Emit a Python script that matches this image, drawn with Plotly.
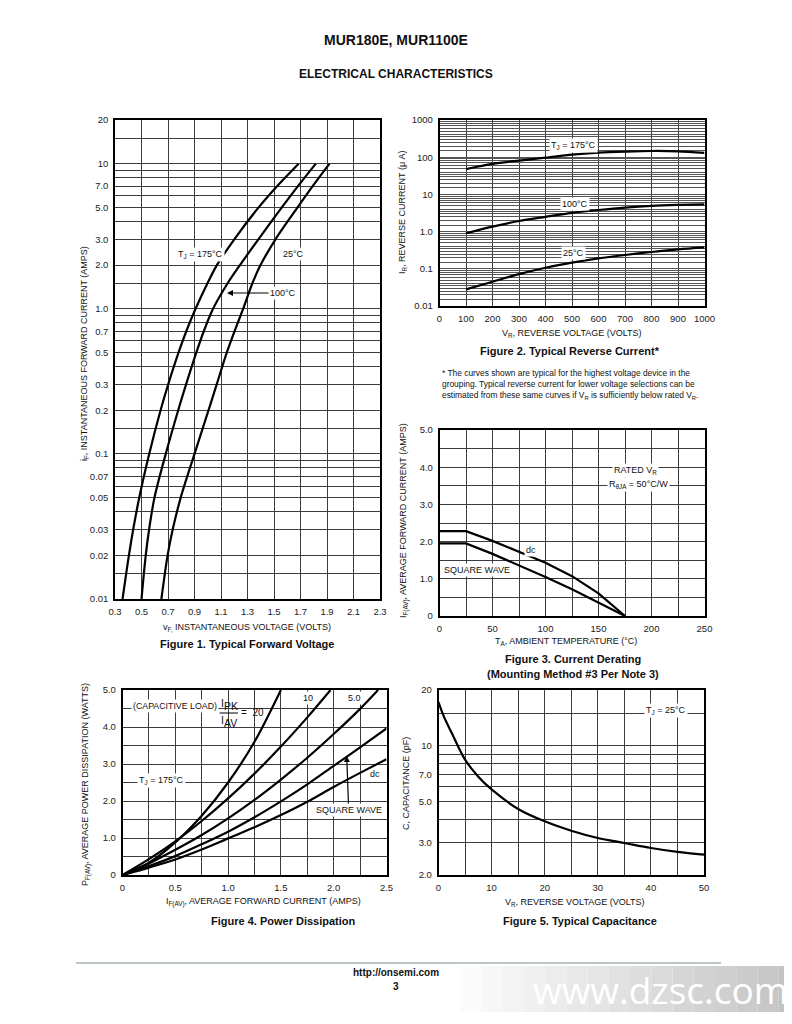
import plotly.graph_objects as go
import numpy as np

W, H = 792, 1024
OFF = 8  # page body margin of the browser
FONT = "Liberation Sans Narrow, Arial Narrow, Liberation Sans, Arial, sans-serif"
BFONT = "Liberation Sans, Arial, sans-serif"

def px(x):
    return (x - OFF) / W

def py(y):
    return 1 - (y - OFF) / H

# ---------------- Figure 1: Typical Forward Voltage ----------------
f1_i = [0.01, 0.02, 0.03, 0.05, 0.1, 0.2, 0.3, 0.5, 0.7, 1.0, 1.5, 2.0, 3.0, 5.0, 7.0, 10]
f1_v175 = [0.357, 0.405, 0.437, 0.483, 0.558, 0.644, 0.701, 0.780, 0.838, 0.908, 0.998, 1.069, 1.199, 1.384, 1.523, 1.686]
f1_v100 = [0.500, 0.532, 0.557, 0.598, 0.683, 0.777, 0.836, 0.914, 0.970, 1.040, 1.150, 1.243, 1.381, 1.559, 1.681, 1.816]
f1_v25 = [0.650, 0.697, 0.735, 0.796, 0.900, 1.006, 1.067, 1.144, 1.202, 1.267, 1.337, 1.398, 1.510, 1.678, 1.792, 1.919]
f1_xticks = [0.3, 0.5, 0.7, 0.9, 1.1, 1.3, 1.5, 1.7, 1.9, 2.1, 2.3]
f1_ygrid = [0.01, 0.015, 0.02, 0.03, 0.04, 0.05, 0.06, 0.07, 0.08, 0.09,
            0.1, 0.15, 0.2, 0.3, 0.4, 0.5, 0.6, 0.7, 0.8, 0.9,
            1.0, 1.5, 2.0, 3.0, 4.0, 5.0, 6.0, 7.0, 8.0, 9.0, 10, 15, 20]
f1_ylabels = {0.01: "0.01", 0.02: "0.02", 0.03: "0.03", 0.05: "0.05", 0.07: "0.07",
              0.1: "0.1", 0.2: "0.2", 0.3: "0.3", 0.5: "0.5", 0.7: "0.7",
              1.0: "1.0", 2.0: "2.0", 3.0: "3.0", 5.0: "5.0", 7.0: "7.0", 10: "10", 20: "20"}

# ---------------- Figure 2: Typical Reverse Current ----------------
f2_vr = [100, 200, 300, 400, 500, 600, 700, 800, 900, 1000]
f2_ir175 = [48, 66, 81, 97, 117, 132, 141, 147, 144, 130]
f2_ir100 = [0.9, 1.36, 1.93, 2.5, 3.2, 3.8, 4.4, 4.9, 5.2, 5.4]
f2_ir25 = [0.028, 0.045, 0.072, 0.107, 0.146, 0.19, 0.235, 0.283, 0.334, 0.378]
f2_xticks = [0, 100, 200, 300, 400, 500, 600, 700, 800, 900, 1000]
f2_decades = [0.01, 0.1, 1.0, 10, 100]
f2_mult = [1, 1.5, 2, 2.5, 3, 3.5, 4, 5, 6, 7, 8, 9]
f2_ylabels = {0.01: "0.01", 0.1: "0.1", 1.0: "1.0", 10: "10", 100: "100", 1000: "1000"}

# ---------------- Figure 3: Current Derating ----------------
f3_ta = [0, 25, 50, 75, 100, 125, 150, 175]
f3_dc = [2.28, 2.28, 2.02, 1.73, 1.43, 1.07, 0.61, 0]
f3_sq = [1.95, 1.95, 1.67, 1.37, 1.05, 0.72, 0.36, 0]
f3_xgrid = [0, 25, 50, 75, 100, 125, 150, 175, 200, 225, 250]
f3_xlabels = {0: "0", 50: "50", 100: "100", 150: "150", 200: "200", 250: "250"}
f3_ygrid = [0, 0.5, 1.0, 1.5, 2.0, 2.5, 3.0, 3.5, 4.0, 4.5, 5.0]
f3_ylabels = {0: "0", 1.0: "1.0", 2.0: "2.0", 3.0: "3.0", 4.0: "4.0", 5.0: "5.0"}

# ---------------- Figure 4: Power Dissipation ----------------
f4_i = [0, 0.25, 0.5, 0.75, 1.0, 1.25, 1.5, 1.75, 2.0, 2.25, 2.5]
f4_p20_i = [0, 0.25, 0.5, 0.75, 1.0, 1.25, 1.5]
f4_p20 = [0, 0.33, 0.88, 1.6, 2.5, 3.6, 5.0]
f4_p10_i = [0, 0.25, 0.5, 0.75, 1.0, 1.25, 1.5, 1.75, 1.97]
f4_p10 = [0, 0.43, 0.91, 1.46, 2.07, 2.74, 3.47, 4.26, 5.0]
f4_p5_i = [0, 0.25, 0.5, 0.75, 1.0, 1.25, 1.5, 1.75, 2.0, 2.25, 2.42]
f4_p5 = [0, 0.31, 0.68, 1.08, 1.53, 2.03, 2.58, 3.17, 3.81, 4.49, 5.0]
f4_psq = [0, 0.24, 0.51, 0.83, 1.17, 1.56, 1.99, 2.45, 2.95, 3.45, 3.96]
f4_pdc = [0, 0.20, 0.42, 0.69, 0.99, 1.29, 1.62, 1.98, 2.38, 2.76, 3.13]
f4_xgrid = [0, 0.25, 0.5, 0.75, 1.0, 1.25, 1.5, 1.75, 2.0, 2.25, 2.5]
f4_xlabels = {0: "0", 0.5: "0.5", 1.0: "1.0", 1.5: "1.5", 2.0: "2.0", 2.5: "2.5"}
f4_ygrid = [0, 0.5, 1.0, 1.5, 2.0, 2.5, 3.0, 3.5, 4.0, 4.5, 5.0]
f4_ylabels = {0: "0", 1.0: "1.0", 2.0: "2.0", 3.0: "3.0", 4.0: "4.0", 5.0: "5.0"}

# ---------------- Figure 5: Typical Capacitance ----------------
f5_vr = [0, 1, 2.5, 5, 7.5, 10, 15, 20, 25, 30, 35, 40, 45, 50]
f5_c = [17.2, 14.4, 11.7, 8.4, 6.8, 5.8, 4.55, 3.9, 3.47, 3.17, 2.98, 2.80, 2.67, 2.58]
f5_xgrid = [0, 5, 10, 15, 20, 25, 30, 35, 40, 45, 50]
f5_xlabels = {0: "0", 10: "10", 20: "20", 30: "30", 40: "40", 50: "50"}
f5_ygrid = [2, 3, 4, 5, 6, 7, 8, 9, 10, 15, 20]
f5_ylabels = {2: "2.0", 3: "3.0", 5: "5.0", 7: "7.0", 10: "10", 20: "20"}


def labels_for(grid, lab):
    return [lab.get(v, "") for v in grid]


fig = go.Figure()
LINE = dict(color="black", width=2.2)

def add(x, y, n, smooth=True):
    xa = "x" if n == 1 else f"x{n}"
    ya = "y" if n == 1 else f"y{n}"
    ln = dict(LINE, shape="spline", smoothing=0.9) if smooth else LINE
    fig.add_trace(go.Scatter(x=x, y=y, mode="lines", line=ln,
                             xaxis=xa, yaxis=ya, showlegend=False, hoverinfo="skip"))

add(f1_v175, f1_i, 1)
add(f1_v100, f1_i, 1)
add(f1_v25, f1_i, 1)
add(f2_vr, f2_ir175, 2)
add(f2_vr, f2_ir100, 2)
add(f2_vr, f2_ir25, 2)
add(f3_ta, f3_dc, 3, smooth=False)
add(f3_ta, f3_sq, 3, smooth=False)
add(f4_p20_i, f4_p20, 4)
add(f4_p10_i, f4_p10, 4)
add(f4_p5_i, f4_p5, 4)
add(f4_i, f4_psq, 4)
add(f4_i, f4_pdc, 4)
add(f5_vr, f5_c, 5)

f2_ygrid = [d * m for d in f2_decades for m in f2_mult] + [1000]

def ax(domain, rng, tickvals, ticktext, typ="linear", anchor=None, grid="#3c3c3c"):
    d = dict(domain=domain, range=rng, type=typ, tickmode="array", tickvals=tickvals,
             ticktext=ticktext, showgrid=True, gridcolor=grid, gridwidth=1,
             showline=True, linecolor="black", linewidth=1.5, mirror=True, ticks="",
             zeroline=False, tickfont=dict(family=FONT, size=9.5, color="#222"),
             ticklabelstandoff=3, fixedrange=True, automargin=False)
    if anchor:
        d["anchor"] = anchor
    return d

f1x = [px(115), px(380)]
f1y = [py(599), py(120)]
f2x = [px(439.5), px(704.5)]
f2y = [py(306), py(120)]
f3y = [py(616), py(430)]
f4x = [px(122.5), px(386.5)]
f45y = [py(875), py(690)]
f5x = [px(438.5), px(704)]

fig.update_layout(
    width=W, height=H, margin=dict(l=0, r=0, t=0, b=0, autoexpand=False),
    paper_bgcolor="white", plot_bgcolor="white",
    xaxis=ax(f1x, [0.3, 2.3], f1_xticks, [f"{v:.1f}" for v in f1_xticks], anchor="y"),
    yaxis=ax(f1y, [np.log10(0.01), np.log10(20)], f1_ygrid, labels_for(f1_ygrid, f1_ylabels), "log", anchor="x"),
    xaxis2=ax(f2x, [0, 1000], f2_xticks, [str(v) for v in f2_xticks], anchor="y2"),
    yaxis2=ax(f2y, [-2, 3], f2_ygrid, labels_for(f2_ygrid, f2_ylabels), "log", anchor="x2", grid="#555"),
    xaxis3=ax(f2x, [0, 250], f3_xgrid, labels_for(f3_xgrid, f3_xlabels), anchor="y3"),
    yaxis3=ax(f3y, [0, 5], f3_ygrid, labels_for(f3_ygrid, f3_ylabels), anchor="x3"),
    xaxis4=ax(f4x, [0, 2.5], f4_xgrid, labels_for(f4_xgrid, f4_xlabels), anchor="y4"),
    yaxis4=ax(f45y, [0, 5], f4_ygrid, labels_for(f4_ygrid, f4_ylabels), anchor="x4"),
    xaxis5=ax(f5x, [0, 50], f5_xgrid, labels_for(f5_xgrid, f5_xlabels), anchor="y5"),
    yaxis5=ax(f45y, [np.log10(2), np.log10(20)], f5_ygrid, labels_for(f5_ygrid, f5_ylabels), "log", anchor="x5"),
)

ann = []

def txt(x, y, text, size=9, font=FONT, bold=False, angle=0, bg=None, xanchor="center", align="center", color="#111"):
    a = dict(x=px(x), y=py(y), xref="paper", yref="paper", text=(f"<b>{text}</b>" if bold else text),
             showarrow=False, font=dict(family=font, size=size, color=color), textangle=angle,
             xanchor=xanchor, yanchor="middle", align=align)
    if bg:
        a["bgcolor"] = bg
    ann.append(a)

# Header
txt(396, 40, "MUR180E, MUR1100E", size=14, font=BFONT, bold=True)
txt(396, 74, "ELECTRICAL CHARACTERISTICS", size=12, font=BFONT, bold=True)

# Figure 1 texts
txt(247, 627, "v<sub>F,</sub> INSTANTANEOUS VOLTAGE (VOLTS)")
txt(84, 354, "i<sub>F</sub>, INSTANTANEOUS FORWARD CURRENT (AMPS)", angle=-90)
txt(247, 644, "Figure 1. Typical Forward Voltage", size=11, font=BFONT, bold=True)
txt(200, 254, "T<sub>J</sub> = 175°C", bg="white")
txt(293, 254, "25°C", bg="white")
ann.append(dict(x=px(227), y=py(293), xref="paper", yref="paper", text="100°C", showarrow=True,
                ax=56, ay=0, arrowhead=2, arrowsize=1, arrowwidth=1.2, arrowcolor="black",
                bgcolor="white", font=dict(family=FONT, size=9, color="#111")))

# Figure 2 texts
txt(572, 333, "V<sub>R</sub>, REVERSE VOLTAGE (VOLTS)")
txt(402, 212, "I<sub>R</sub>, REVERSE CURRENT (μ A)", angle=-90)
txt(570, 351, "Figure 2. Typical Reverse Current*", size=11, font=BFONT, bold=True)
txt(573, 145, "T<sub>J</sub> = 175°C", bg="white")
txt(575, 204, "100°C", bg="white")
txt(573, 253, "25°C", bg="white")
txt(440, 384, "* The curves shown are typical for the highest voltage device in the<br>"
              "grouping. Typical reverse current for lower voltage selections can be<br>"
              "estimated from these same curves if V<sub>R</sub> is sufficiently below rated V<sub>R</sub>.",
    size=8.4, xanchor="left", align="left")

# Figure 3 texts
txt(566, 641, "T<sub>A</sub>, AMBIENT TEMPERATURE (°C)")
txt(404, 521, "I<sub>F(AV)</sub>, AVERAGE FORWARD CURRENT (AMPS)", angle=-90)
txt(573, 659, "Figure 3. Current Derating", size=11, font=BFONT, bold=True)
txt(573, 674, "(Mounting Method #3 Per Note 3)", size=11, font=BFONT, bold=True)
txt(635, 470, "RATED V<sub>R</sub>", bg="white")
txt(638, 484, "R<sub>θJA</sub> = 50°C/W", bg="white")
txt(531, 550, "dc", bg="white")
txt(477, 570, "SQUARE WAVE", bg="white")

# Figure 4 texts
txt(263, 902, "I<sub>F(AV)</sub>, AVERAGE FORWARD CURRENT (AMPS)")
txt(86, 785, "P<sub>F(AV)</sub>, AVERAGE POWER DISSIPATION (WATTS)", angle=-90)
txt(283, 921, "Figure 4. Power Dissipation", size=11, font=BFONT, bold=True)
txt(175, 706, "(CAPACITIVE LOAD)", size=8.8, bg="white")
txt(222, 703, "I", size=10.5)
txt(230.5, 706, "PK", size=10.5)
txt(222, 720, "I", size=10.5)
txt(230.5, 723, "AV", size=10.5)
txt(252, 712, "=  20", size=10)
txt(308, 698, "10", bg="white")
txt(354, 698, "5.0", bg="white")
txt(161, 780, "T<sub>J</sub> = 175°C", bg="white")
txt(375, 774, "dc")
ann.append(dict(x=px(346.7), y=py(756), xref="paper", yref="paper", text="SQUARE WAVE", showarrow=True,
                ax=2, ay=54, arrowhead=2, arrowsize=1, arrowwidth=1.2, arrowcolor="black",
                bgcolor="white", font=dict(family=FONT, size=9, color="#111")))

# Figure 5 texts
txt(575, 902, "V<sub>R</sub>, REVERSE VOLTAGE (VOLTS)")
txt(406, 783, "C, CAPACITANCE (pF)", angle=-90)
txt(580, 921, "Figure 5. Typical Capacitance", size=11, font=BFONT, bold=True)
txt(666, 710, "T<sub>J</sub> = 25°C", bg="white")

# Footer
txt(396, 972, "http://onsemi.com", size=10, font=BFONT, bold=True)
txt(396, 986, "3", size=10, font=BFONT, bold=True)

shapes = [
    dict(type="line", xref="paper", yref="paper", x0=px(219.5), x1=px(238), y0=py(713), y1=py(713),
         line=dict(color="black", width=1)),
    dict(type="line", xref="paper", yref="paper", x0=px(76), x1=px(721), y0=py(963), y1=py(963),
         line=dict(color="#bcc6c6", width=2)),
]
# watermark gradient band
steps = 16
x_start, x_end = 460, 800
for k in range(steps):
    g = int(255 - (255 - 196) * (k + 1) / steps)
    shapes.append(dict(type="rect", xref="paper", yref="paper",
                       x0=px(x_start + (x_end - x_start) * k / steps),
                       x1=px(x_start + (x_end - x_start) * (k + 1) / steps),
                       y0=py(1012), y1=py(966), line=dict(width=0),
                       fillcolor=f"rgb({g},{g},{g})", layer="below"))
txt(660, 989, "www.dzsc.com", size=37, font="Open Sans, DejaVu Sans, sans-serif", color="white")

fig.update_layout(annotations=ann, shapes=shapes)
fig.write_html("out.html")
